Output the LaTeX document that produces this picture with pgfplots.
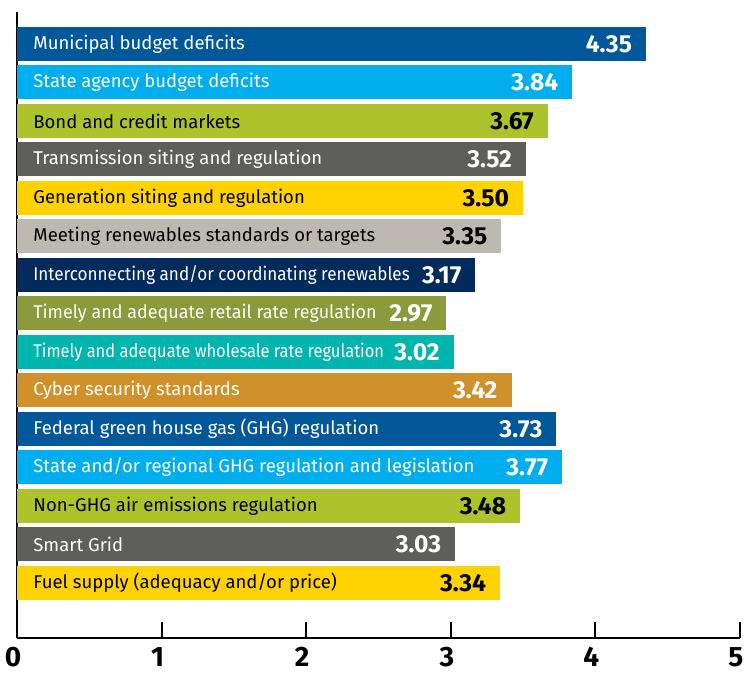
\documentclass[border=0pt]{standalone}
\usepackage{fontspec}
\setmainfont{Fira Sans}
\usepackage{pgfplots}
\pgfplotsset{compat=1.18}
\definecolor{cDB}{HTML}{00579A}
\definecolor{cLB}{HTML}{00AEEF}
\definecolor{cGR}{HTML}{AEC22B}
\definecolor{cGY}{HTML}{5E5F5C}
\definecolor{cYE}{HTML}{FFD200}
\definecolor{cLG}{HTML}{BDB9B2}
\definecolor{cNV}{HTML}{002B5C}
\definecolor{cOL}{HTML}{8B9A3B}
\definecolor{cTE}{HTML}{00B5AD}
\definecolor{cOC}{HTML}{D0912B}
\pgfplotsset{
  mybar/.style 2 args={xbar, bar width=17pt, bar shift=0pt, draw=none, fill=#1,
    nodes near coords style={text=#2}},
}
\begin{document}
\begin{tikzpicture}
\useasboundingbox (-8.5pt,-19pt) rectangle (363.5pt,319pt);
\begin{axis}[
  at={(0,0)}, anchor=south west,
  scale only axis, width=361.5pt, height=313pt,
  xmin=0, xmax=5, ymin=-0.83, ymax=15.43, y dir=reverse,
  axis lines*=left,
  axis line style={line width=1.2pt, black},
  xtick={0,1,2,3,4,5}, xtick align=inside,
  major tick length=8pt,
  tick style={line width=1pt, black},
  ytick=\empty,
  /pgf/number format/assume math mode=true,
  xticklabel style={font=\fontsize{14}{14}\selectfont\bfseries, yshift=-1pt, xshift=-2pt},
  point meta=x,
  nodes near coords={\pgfmathprintnumber[fixed,fixed zerofill,precision=2]{\pgfplotspointmeta}},
  nodes near coords style={anchor=east, xshift=-3.5pt, font=\fontsize{12.3}{12.3}\selectfont\bfseries},
  clip=false,
]
\addplot[mybar={cDB}{white}] coordinates {(4.35,0)};
\addplot[mybar={cLB}{white}] coordinates {(3.84,1)};
\addplot[mybar={cGR}{black}] coordinates {(3.67,2)};
\addplot[mybar={cGY}{white}] coordinates {(3.52,3)};
\addplot[mybar={cYE}{black}] coordinates {(3.50,4)};
\addplot[mybar={cLG}{black}] coordinates {(3.35,5)};
\addplot[mybar={cNV}{white}] coordinates {(3.17,6)};
\addplot[mybar={cOL}{white}] coordinates {(2.97,7)};
\addplot[mybar={cTE}{white}] coordinates {(3.02,8)};
\addplot[mybar={cOC}{white}] coordinates {(3.42,9)};
\addplot[mybar={cDB}{white}] coordinates {(3.73,10)};
\addplot[mybar={cLB}{white}] coordinates {(3.77,11)};
\addplot[mybar={cGR}{black}] coordinates {(3.48,12)};
\addplot[mybar={cGY}{white}] coordinates {(3.03,13)};
\addplot[mybar={cYE}{black}] coordinates {(3.34,14)};
\tikzset{lbl/.style={anchor=west, xshift=8pt, inner sep=0pt, font=\fontsize{9.25}{9.25}\selectfont}}
\node[lbl, text=white] at (axis cs:0,0) {Municipal budget deficits};
\node[lbl, text=white] at (axis cs:0,1) {State agency budget deficits};
\node[lbl, text=black] at (axis cs:0,2) {Bond and credit markets};
\node[lbl, text=white] at (axis cs:0,3) {Transmission siting and regulation};
\node[lbl, text=black] at (axis cs:0,4) {Generation siting and regulation};
\node[lbl, text=black] at (axis cs:0,5) {Meeting renewables standards or targets};
\node[lbl, text=white] at (axis cs:0,6) {\scalebox{0.925}[1]{Interconnecting and/or coordinating renewables}};
\node[lbl, text=white] at (axis cs:0,7) {\scalebox{0.97}[1]{Timely and adequate retail rate regulation}};
\node[lbl, text=white] at (axis cs:0,8) {\scalebox{0.89}[1]{Timely and adequate wholesale rate regulation}};
\node[lbl, text=white] at (axis cs:0,9) {Cyber security standards};
\node[lbl, text=white] at (axis cs:0,10) {Federal green house gas (GHG) regulation};
\node[lbl, text=white] at (axis cs:0,11) {State and/or regional GHG regulation and legislation};
\node[lbl, text=black] at (axis cs:0,12) {Non-GHG air emissions regulation};
\node[lbl, text=white] at (axis cs:0,13) {Smart Grid};
\node[lbl, text=black] at (axis cs:0,14) {Fuel supply (adequacy and/or price)};
\end{axis}
\end{tikzpicture}
\end{document}
